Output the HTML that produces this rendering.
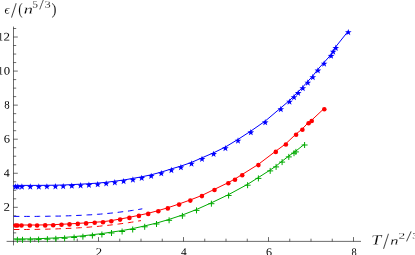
<!DOCTYPE html>
<html><head><meta charset="utf-8"><title>plot</title>
<style>
html,body{margin:0;padding:0;background:#fff;}
body{width:415px;height:255px;overflow:hidden;font-family:"Liberation Serif",serif;}
svg{display:block;position:absolute;left:0;top:0;}
text{font-family:"Liberation Serif",serif;}
</style></head><body>
<svg width="415" height="255" viewBox="0 0 415 255">
<rect width="415" height="255" fill="#fff"/>
<g stroke="#000" stroke-width="0.58" fill="none" stroke-opacity="1">
<line x1="6.6" y1="241.38" x2="361" y2="241.38"/>
<line x1="13.5" y1="26.6" x2="13.5" y2="245.4"/>
<line x1="34.75" y1="241.38" x2="34.75" y2="238.68"/>
<line x1="56.00" y1="241.38" x2="56.00" y2="238.68"/>
<line x1="77.25" y1="241.38" x2="77.25" y2="238.68"/>
<line x1="98.50" y1="241.38" x2="98.50" y2="237.08"/>
<line x1="119.75" y1="241.38" x2="119.75" y2="238.68"/>
<line x1="141.00" y1="241.38" x2="141.00" y2="238.68"/>
<line x1="162.25" y1="241.38" x2="162.25" y2="238.68"/>
<line x1="183.50" y1="241.38" x2="183.50" y2="237.08"/>
<line x1="204.75" y1="241.38" x2="204.75" y2="238.68"/>
<line x1="226.00" y1="241.38" x2="226.00" y2="238.68"/>
<line x1="247.25" y1="241.38" x2="247.25" y2="238.68"/>
<line x1="268.50" y1="241.38" x2="268.50" y2="237.08"/>
<line x1="289.75" y1="241.38" x2="289.75" y2="238.68"/>
<line x1="311.00" y1="241.38" x2="311.00" y2="238.68"/>
<line x1="332.25" y1="241.38" x2="332.25" y2="238.68"/>
<line x1="353.50" y1="241.38" x2="353.50" y2="237.08"/>
<line x1="13.5" y1="232.87" x2="16.20" y2="232.87"/>
<line x1="13.5" y1="224.35" x2="16.20" y2="224.35"/>
<line x1="13.5" y1="215.83" x2="16.20" y2="215.83"/>
<line x1="13.5" y1="207.32" x2="17.80" y2="207.32"/>
<line x1="13.5" y1="198.81" x2="16.20" y2="198.81"/>
<line x1="13.5" y1="190.29" x2="16.20" y2="190.29"/>
<line x1="13.5" y1="181.77" x2="16.20" y2="181.77"/>
<line x1="13.5" y1="173.26" x2="17.80" y2="173.26"/>
<line x1="13.5" y1="164.75" x2="16.20" y2="164.75"/>
<line x1="13.5" y1="156.23" x2="16.20" y2="156.23"/>
<line x1="13.5" y1="147.71" x2="16.20" y2="147.71"/>
<line x1="13.5" y1="139.20" x2="17.80" y2="139.20"/>
<line x1="13.5" y1="130.69" x2="16.20" y2="130.69"/>
<line x1="13.5" y1="122.17" x2="16.20" y2="122.17"/>
<line x1="13.5" y1="113.65" x2="16.20" y2="113.65"/>
<line x1="13.5" y1="105.14" x2="17.80" y2="105.14"/>
<line x1="13.5" y1="96.62" x2="16.20" y2="96.62"/>
<line x1="13.5" y1="88.11" x2="16.20" y2="88.11"/>
<line x1="13.5" y1="79.59" x2="16.20" y2="79.59"/>
<line x1="13.5" y1="71.08" x2="17.80" y2="71.08"/>
<line x1="13.5" y1="62.56" x2="16.20" y2="62.56"/>
<line x1="13.5" y1="54.05" x2="16.20" y2="54.05"/>
<line x1="13.5" y1="45.53" x2="16.20" y2="45.53"/>
<line x1="13.5" y1="37.02" x2="17.80" y2="37.02"/>
<line x1="13.5" y1="28.50" x2="16.20" y2="28.50"/>
</g>
<polyline points="13.8,216.4 17.0,216.4 20.2,216.4 23.4,216.4 26.6,216.4 29.9,216.4 33.1,216.4 36.3,216.4 39.5,216.3 42.7,216.3 45.9,216.3 49.1,216.2 52.3,216.2 55.6,216.1 58.8,216.1 62.0,216.0 65.2,215.9 68.4,215.8 71.6,215.7 74.8,215.6 78.0,215.4 81.2,215.3 84.5,215.1 87.7,214.9 90.9,214.8 94.1,214.5 97.3,214.3 100.5,214.1 103.7,213.8 106.9,213.5 110.2,213.2 113.4,212.9 116.6,212.5 119.8,212.1 123.0,211.7 126.2,211.3 129.4,210.9 132.6,210.4 135.9,209.9 139.1,209.4 142.3,208.8" fill="none" stroke="#0000ff" stroke-width="1" stroke-dasharray="5.6 4.8"/>
<polyline points="13.8,229.5 17.0,229.5 20.2,229.5 23.3,229.5 26.5,229.5 29.7,229.4 32.9,229.4 36.1,229.4 39.2,229.3 42.4,229.3 45.6,229.2 48.8,229.1 52.0,229.0 55.1,229.0 58.3,228.8 61.5,228.7 64.7,228.6 67.9,228.4 71.0,228.3 74.2,228.1 77.4,227.9 80.6,227.7 83.8,227.5 86.9,227.3 90.1,227.0 93.3,226.7 96.5,226.5 99.7,226.2 102.8,225.8 106.0,225.5 109.2,225.2 112.4,224.8 115.6,224.4 118.7,224.0 121.9,223.6 125.1,223.1 128.3,222.7 131.5,222.2 134.6,221.7 137.8,221.1 141.0,220.6" fill="none" stroke="#ff0000" stroke-width="1" stroke-dasharray="5.6 4.8"/>
<polyline points="13.5,185.4 15.6,185.4 17.8,185.4 21.9,185.4 30.3,185.4 38.8,185.4 46.9,185.3 55.4,185.2 63.2,185.0 71.8,184.6 80.6,184.2 88.9,183.7 97.7,183.1 106.2,182.3 114.8,181.2 123.6,180.0 132.9,178.4 141.7,176.8 151.2,174.8 161.3,172.1 171.4,168.9 180.9,166.1 191.5,162.4 202.0,157.8 213.6,152.8 225.4,147.0 238.0,139.4 250.8,131.1 265.2,121.1 280.8,107.9 289.5,100.5 294.0,95.9 298.2,91.8 302.8,86.9 307.8,81.4 312.8,75.9 317.9,69.3 324.1,62.4 331.1,54.6 333.2,50.5 335.8,46.7 348.3,31.0" fill="none" stroke="#0000ff" stroke-width="1"/>
<polyline points="13.5,225.0 15.2,225.0 17.0,225.0 21.1,225.0 29.4,225.0 36.7,225.0 44.8,224.9 52.8,224.7 61.1,224.3 69.1,223.9 77.4,223.4 85.7,222.9 94.3,222.3 102.6,221.7 110.9,220.7 119.7,219.1 129.0,217.4 138.5,215.4 147.8,213.4 157.9,210.7 167.4,207.9 178.7,204.1 189.9,200.1 201.5,195.6 214.1,189.5 227.9,182.8 234.6,179.2 241.8,174.7 258.0,164.6 275.4,151.4 285.5,144.0 295.7,134.3 302.0,129.2 308.2,122.7 311.3,120.5 323.9,108.7" fill="none" stroke="#ff0000" stroke-width="1"/>
<polyline points="13.5,238.9 17.4,238.9 22.5,238.9 30.4,238.9 38.6,238.7 47.4,238.3 55.8,237.9 64.6,237.4 74.1,236.6 82.9,235.8 92.4,234.7 101.9,233.6 111.5,232.1 122.1,230.6 132.7,228.6 144.7,225.9 156.5,223.1 169.1,219.4 182.4,215.0 196.5,209.5 211.4,202.8 228.6,194.6 247.6,184.3 258.4,177.5 270.2,170.0 276.1,166.0 282.1,161.2 288.8,156.0 294.0,152.3 295.9,151.0 304.6,144.1" fill="none" stroke="#00aa00" stroke-width="1"/>
<g fill="#0000ff"><polygon points="15.60,183.30 16.42,185.67 18.93,185.72 16.93,187.23 17.66,189.63 15.60,188.20 13.54,189.63 14.27,187.23 12.27,185.72 14.78,185.67"/><polygon points="17.80,183.30 18.62,185.67 21.13,185.72 19.13,187.23 19.86,189.63 17.80,188.20 15.74,189.63 16.47,187.23 14.47,185.72 16.98,185.67"/><polygon points="21.90,183.30 22.72,185.67 25.23,185.72 23.23,187.23 23.96,189.63 21.90,188.20 19.84,189.63 20.57,187.23 18.57,185.72 21.08,185.67"/><polygon points="30.30,183.30 31.12,185.67 33.63,185.72 31.63,187.23 32.36,189.63 30.30,188.20 28.24,189.63 28.97,187.23 26.97,185.72 29.48,185.67"/><polygon points="38.80,183.30 39.62,185.67 42.13,185.72 40.13,187.23 40.86,189.63 38.80,188.20 36.74,189.63 37.47,187.23 35.47,185.72 37.98,185.67"/><polygon points="46.90,183.20 47.72,185.57 50.23,185.62 48.23,187.13 48.96,189.53 46.90,188.10 44.84,189.53 45.57,187.13 43.57,185.62 46.08,185.57"/><polygon points="55.40,183.10 56.22,185.47 58.73,185.52 56.73,187.03 57.46,189.43 55.40,188.00 53.34,189.43 54.07,187.03 52.07,185.52 54.58,185.47"/><polygon points="63.20,182.90 64.02,185.27 66.53,185.32 64.53,186.83 65.26,189.23 63.20,187.80 61.14,189.23 61.87,186.83 59.87,185.32 62.38,185.27"/><polygon points="71.80,182.50 72.62,184.87 75.13,184.92 73.13,186.43 73.86,188.83 71.80,187.40 69.74,188.83 70.47,186.43 68.47,184.92 70.98,184.87"/><polygon points="80.60,182.10 81.42,184.47 83.93,184.52 81.93,186.03 82.66,188.43 80.60,187.00 78.54,188.43 79.27,186.03 77.27,184.52 79.78,184.47"/><polygon points="88.90,181.60 89.72,183.97 92.23,184.02 90.23,185.53 90.96,187.93 88.90,186.50 86.84,187.93 87.57,185.53 85.57,184.02 88.08,183.97"/><polygon points="97.70,181.00 98.52,183.37 101.03,183.42 99.03,184.93 99.76,187.33 97.70,185.90 95.64,187.33 96.37,184.93 94.37,183.42 96.88,183.37"/><polygon points="106.20,180.20 107.02,182.57 109.53,182.62 107.53,184.13 108.26,186.53 106.20,185.10 104.14,186.53 104.87,184.13 102.87,182.62 105.38,182.57"/><polygon points="114.80,179.10 115.62,181.47 118.13,181.52 116.13,183.03 116.86,185.43 114.80,184.00 112.74,185.43 113.47,183.03 111.47,181.52 113.98,181.47"/><polygon points="123.60,177.90 124.42,180.27 126.93,180.32 124.93,181.83 125.66,184.23 123.60,182.80 121.54,184.23 122.27,181.83 120.27,180.32 122.78,180.27"/><polygon points="132.90,176.30 133.72,178.67 136.23,178.72 134.23,180.23 134.96,182.63 132.90,181.20 130.84,182.63 131.57,180.23 129.57,178.72 132.08,178.67"/><polygon points="141.70,174.70 142.52,177.07 145.03,177.12 143.03,178.63 143.76,181.03 141.70,179.60 139.64,181.03 140.37,178.63 138.37,177.12 140.88,177.07"/><polygon points="151.20,172.70 152.02,175.07 154.53,175.12 152.53,176.63 153.26,179.03 151.20,177.60 149.14,179.03 149.87,176.63 147.87,175.12 150.38,175.07"/><polygon points="161.30,170.00 162.12,172.37 164.63,172.42 162.63,173.93 163.36,176.33 161.30,174.90 159.24,176.33 159.97,173.93 157.97,172.42 160.48,172.37"/><polygon points="171.40,166.80 172.22,169.17 174.73,169.22 172.73,170.73 173.46,173.13 171.40,171.70 169.34,173.13 170.07,170.73 168.07,169.22 170.58,169.17"/><polygon points="180.90,164.00 181.72,166.37 184.23,166.42 182.23,167.93 182.96,170.33 180.90,168.90 178.84,170.33 179.57,167.93 177.57,166.42 180.08,166.37"/><polygon points="191.50,160.30 192.32,162.67 194.83,162.72 192.83,164.23 193.56,166.63 191.50,165.20 189.44,166.63 190.17,164.23 188.17,162.72 190.68,162.67"/><polygon points="202.00,155.70 202.82,158.07 205.33,158.12 203.33,159.63 204.06,162.03 202.00,160.60 199.94,162.03 200.67,159.63 198.67,158.12 201.18,158.07"/><polygon points="213.60,150.70 214.42,153.07 216.93,153.12 214.93,154.63 215.66,157.03 213.60,155.60 211.54,157.03 212.27,154.63 210.27,153.12 212.78,153.07"/><polygon points="225.40,144.90 226.22,147.27 228.73,147.32 226.73,148.83 227.46,151.23 225.40,149.80 223.34,151.23 224.07,148.83 222.07,147.32 224.58,147.27"/><polygon points="238.00,137.30 238.82,139.67 241.33,139.72 239.33,141.23 240.06,143.63 238.00,142.20 235.94,143.63 236.67,141.23 234.67,139.72 237.18,139.67"/><polygon points="250.80,129.00 251.62,131.37 254.13,131.42 252.13,132.93 252.86,135.33 250.80,133.90 248.74,135.33 249.47,132.93 247.47,131.42 249.98,131.37"/><polygon points="265.20,119.00 266.02,121.37 268.53,121.42 266.53,122.93 267.26,125.33 265.20,123.90 263.14,125.33 263.87,122.93 261.87,121.42 264.38,121.37"/><polygon points="280.80,105.80 281.62,108.17 284.13,108.22 282.13,109.73 282.86,112.13 280.80,110.70 278.74,112.13 279.47,109.73 277.47,108.22 279.98,108.17"/><polygon points="289.50,98.40 290.32,100.77 292.83,100.82 290.83,102.33 291.56,104.73 289.50,103.30 287.44,104.73 288.17,102.33 286.17,100.82 288.68,100.77"/><polygon points="294.00,93.80 294.82,96.17 297.33,96.22 295.33,97.73 296.06,100.13 294.00,98.70 291.94,100.13 292.67,97.73 290.67,96.22 293.18,96.17"/><polygon points="298.20,89.70 299.02,92.07 301.53,92.12 299.53,93.63 300.26,96.03 298.20,94.60 296.14,96.03 296.87,93.63 294.87,92.12 297.38,92.07"/><polygon points="302.80,84.80 303.62,87.17 306.13,87.22 304.13,88.73 304.86,91.13 302.80,89.70 300.74,91.13 301.47,88.73 299.47,87.22 301.98,87.17"/><polygon points="307.80,79.30 308.62,81.67 311.13,81.72 309.13,83.23 309.86,85.63 307.80,84.20 305.74,85.63 306.47,83.23 304.47,81.72 306.98,81.67"/><polygon points="312.80,73.80 313.62,76.17 316.13,76.22 314.13,77.73 314.86,80.13 312.80,78.70 310.74,80.13 311.47,77.73 309.47,76.22 311.98,76.17"/><polygon points="317.90,67.20 318.72,69.57 321.23,69.62 319.23,71.13 319.96,73.53 317.90,72.10 315.84,73.53 316.57,71.13 314.57,69.62 317.08,69.57"/><polygon points="324.10,60.30 324.92,62.67 327.43,62.72 325.43,64.23 326.16,66.63 324.10,65.20 322.04,66.63 322.77,64.23 320.77,62.72 323.28,62.67"/><polygon points="331.10,52.50 331.92,54.87 334.43,54.92 332.43,56.43 333.16,58.83 331.10,57.40 329.04,58.83 329.77,56.43 327.77,54.92 330.28,54.87"/><polygon points="333.20,48.40 334.02,50.77 336.53,50.82 334.53,52.33 335.26,54.73 333.20,53.30 331.14,54.73 331.87,52.33 329.87,50.82 332.38,50.77"/><polygon points="335.80,44.60 336.62,46.97 339.13,47.02 337.13,48.53 337.86,50.93 335.80,49.50 333.74,50.93 334.47,48.53 332.47,47.02 334.98,46.97"/><polygon points="348.30,28.90 349.12,31.27 351.63,31.32 349.63,32.83 350.36,35.23 348.30,33.80 346.24,35.23 346.97,32.83 344.97,31.32 347.48,31.27"/></g>
<g fill="#ff0000"><circle cx="15.6" cy="225.5" r="2.3"/><circle cx="17.4" cy="225.5" r="2.3"/><circle cx="21.5" cy="225.5" r="2.3"/><circle cx="29.8" cy="225.5" r="2.3"/><circle cx="37.1" cy="225.5" r="2.3"/><circle cx="45.2" cy="225.4" r="2.3"/><circle cx="53.2" cy="225.2" r="2.3"/><circle cx="61.5" cy="224.8" r="2.3"/><circle cx="69.5" cy="224.4" r="2.3"/><circle cx="77.8" cy="223.9" r="2.3"/><circle cx="86.1" cy="223.4" r="2.3"/><circle cx="94.7" cy="222.8" r="2.3"/><circle cx="103" cy="222.2" r="2.3"/><circle cx="111.3" cy="221.2" r="2.3"/><circle cx="120.1" cy="219.6" r="2.3"/><circle cx="129.4" cy="217.9" r="2.3"/><circle cx="138.9" cy="215.9" r="2.3"/><circle cx="148.2" cy="213.9" r="2.3"/><circle cx="158.3" cy="211.2" r="2.3"/><circle cx="167.8" cy="208.4" r="2.3"/><circle cx="179.1" cy="204.6" r="2.3"/><circle cx="190.3" cy="200.6" r="2.3"/><circle cx="201.9" cy="196.1" r="2.3"/><circle cx="214.5" cy="190" r="2.3"/><circle cx="228.3" cy="183.3" r="2.3"/><circle cx="235" cy="179.7" r="2.3"/><circle cx="242.2" cy="175.2" r="2.3"/><circle cx="258.4" cy="165.1" r="2.3"/><circle cx="275.8" cy="151.9" r="2.3"/><circle cx="285.9" cy="144.5" r="2.3"/><circle cx="296.1" cy="134.8" r="2.3"/><circle cx="302.4" cy="129.7" r="2.3"/><circle cx="308.6" cy="123.2" r="2.3"/><circle cx="311.7" cy="121" r="2.3"/><circle cx="324.3" cy="109.2" r="2.3"/></g>
<g stroke="#00aa00" stroke-width="1" fill="none"><path d="M14.4 239.8H20.4M17.4 236.8V242.8"/><path d="M19.5 239.8H25.5M22.5 236.8V242.8"/><path d="M27.4 239.8H33.4M30.4 236.8V242.8"/><path d="M35.6 239.6H41.6M38.6 236.6V242.6"/><path d="M44.4 239.2H50.4M47.4 236.2V242.2"/><path d="M52.8 238.8H58.8M55.8 235.8V241.8"/><path d="M61.6 238.3H67.6M64.6 235.3V241.3"/><path d="M71.1 237.5H77.1M74.1 234.5V240.5"/><path d="M79.9 236.7H85.9M82.9 233.7V239.7"/><path d="M89.4 235.6H95.4M92.4 232.6V238.6"/><path d="M98.9 234.5H104.9M101.9 231.5V237.5"/><path d="M108.5 233.0H114.5M111.5 230.0V236.0"/><path d="M119.1 231.5H125.1M122.1 228.5V234.5"/><path d="M129.7 229.5H135.7M132.7 226.5V232.5"/><path d="M141.7 226.8H147.7M144.7 223.8V229.8"/><path d="M153.5 224.0H159.5M156.5 221.0V227.0"/><path d="M166.1 220.3H172.1M169.1 217.3V223.3"/><path d="M179.4 215.9H185.4M182.4 212.9V218.9"/><path d="M193.5 210.4H199.5M196.5 207.4V213.4"/><path d="M208.4 203.7H214.4M211.4 200.7V206.7"/><path d="M225.6 195.5H231.6M228.6 192.5V198.5"/><path d="M244.6 185.2H250.6M247.6 182.2V188.2"/><path d="M255.4 178.4H261.4M258.4 175.4V181.4"/><path d="M267.2 170.9H273.2M270.2 167.9V173.9"/><path d="M273.1 166.9H279.1M276.1 163.9V169.9"/><path d="M279.1 162.1H285.1M282.1 159.1V165.1"/><path d="M285.8 156.9H291.8M288.8 153.9V159.9"/><path d="M291.0 153.2H297.0M294.0 150.2V156.2"/><path d="M292.9 151.9H298.9M295.9 148.9V154.9"/><path d="M301.6 145.0H307.6M304.6 142.0V148.0"/></g>
<g fill="#000" opacity="0.99" stroke="#fff" stroke-width="3">
<text transform="matrix(0.0321 0.0005 0 0.0301 4.42 13.48)" font-size="400" font-style="italic">ϵ</text>
<text transform="matrix(0.0513 0.0005 0 0.0538 11.00 17.29)" font-size="400">/</text>
<text transform="matrix(0.0331 0.0005 0 0.0405 18.32 14.25)" font-size="400">(</text>
<text transform="matrix(0.0461 0.0005 0 0.0318 23.74 13.60)" font-size="400" font-style="italic">n</text>
<text transform="matrix(0.0285 0.0005 0 0.0245 32.34 7.50)" font-size="400">5</text>
<text transform="matrix(0.0414 0.0005 0 0.0374 39.20 9.35)" font-size="400">/</text>
<text transform="matrix(0.0297 0.0005 0 0.0242 44.83 7.51)" font-size="400">3</text>
<text transform="matrix(0.0380 0.0005 0 0.0405 51.51 14.25)" font-size="400">)</text>
<text transform="matrix(0.0450 0.0005 0 0.0359 371.22 244.60)" font-size="400" font-style="italic">T</text>
<text transform="matrix(0.0540 0.0005 0 0.0557 383.00 248.58)" font-size="400">/</text>
<text transform="matrix(0.0408 0.0005 0 0.0281 390.22 244.60)" font-size="400" font-style="italic">n</text>
<text transform="matrix(0.0331 0.0005 0 0.0211 398.62 238.60)" font-size="400">2</text>
<text transform="matrix(0.0504 0.0005 0 0.0370 406.00 241.26)" font-size="400">/</text>
<text transform="matrix(0.0297 0.0005 0 0.0208 412.33 238.52)" font-size="400">3</text>
</g>
<g fill="#000" opacity="0.99" stroke="none">
<text transform="matrix(0.0327 0.0005 0 0.0291 3.62 210.82)" font-size="400">2</text>
<text transform="matrix(0.0298 0.0005 0 0.0292 3.87 176.76)" font-size="400">4</text>
<text transform="matrix(0.0316 0.0005 0 0.0287 3.66 142.59)" font-size="400">6</text>
<text transform="matrix(0.0271 0.0005 0 0.0285 4.19 108.53)" font-size="400">8</text>
<text transform="matrix(0.0319 0.0005 0 0.0285 3.71 74.47)" font-size="400">0</text>
<text transform="matrix(0.0256 0.0005 0 0.0288 -2.10 74.48)" font-size="400">1</text>
<text transform="matrix(0.0327 0.0005 0 0.0291 3.62 40.52)" font-size="400">2</text>
<text transform="matrix(0.0256 0.0005 0 0.0288 -2.10 40.42)" font-size="400">1</text>
<text transform="matrix(0.0318 0.0005 0 0.0289 95.74 255.75)" font-size="400">2</text>
<text transform="matrix(0.0285 0.0005 0 0.0291 180.98 255.75)" font-size="400">4</text>
<text transform="matrix(0.0304 0.0005 0 0.0285 265.98 255.64)" font-size="400">6</text>
<text transform="matrix(0.0260 0.0005 0 0.0283 351.50 255.64)" font-size="400">8</text>
</g>
</svg></body></html>
